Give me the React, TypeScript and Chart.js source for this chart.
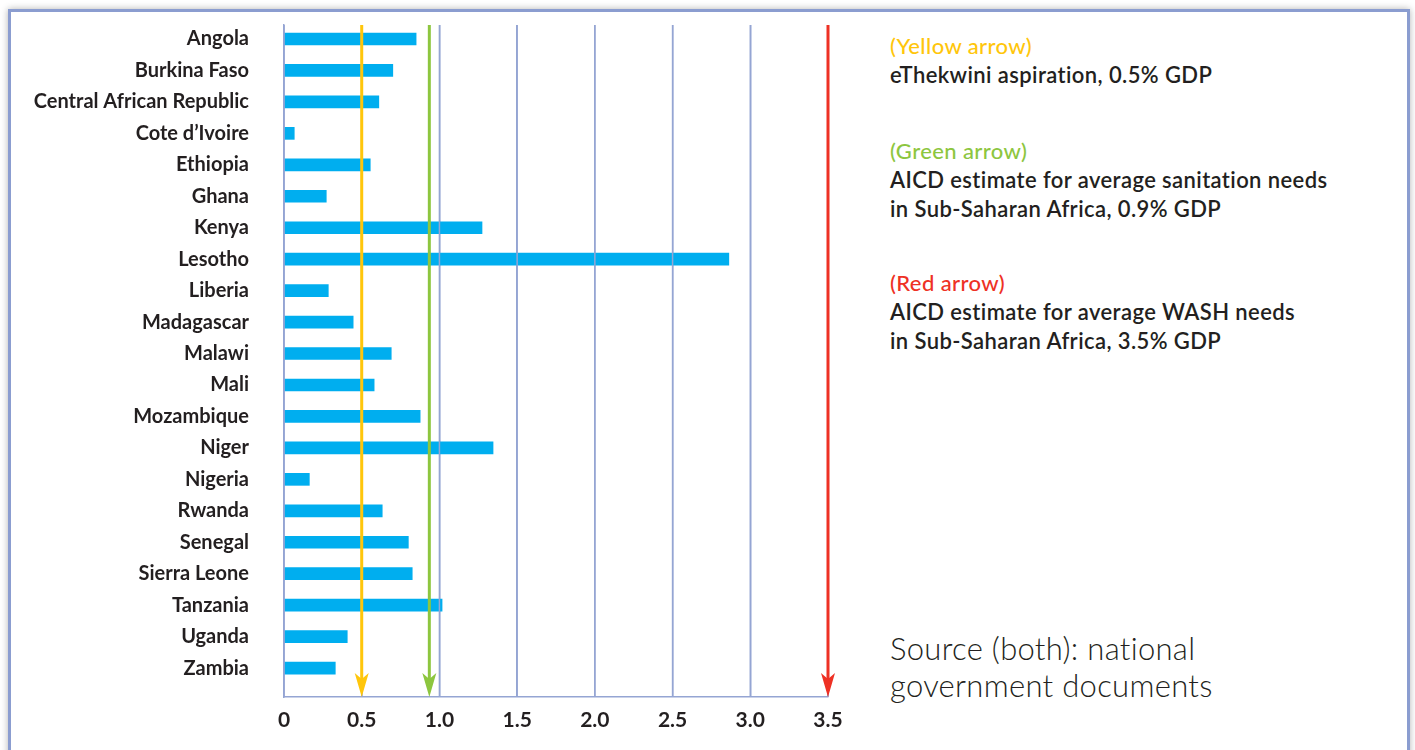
import React, { useEffect, useRef } from "react";
import { Chart, registerables } from "chart.js";

Chart.register(...registerables);

const countries = [
  "Angola", "Burkina Faso", "Central African Republic", "Cote d\u2019Ivoire", "Ethiopia",
  "Ghana", "Kenya", "Lesotho", "Liberia", "Madagascar", "Malawi", "Mali", "Mozambique",
  "Niger", "Nigeria", "Rwanda", "Senegal", "Sierra Leone", "Tanzania", "Uganda", "Zambia",
];
const spending = [
  0.85, 0.70, 0.61, 0.066, 0.555, 0.272, 1.274, 2.862, 0.285, 0.445, 0.69,
  0.58, 0.876, 1.345, 0.163, 0.632, 0.80, 0.825, 1.017, 0.407, 0.33,
];
const xTicks = [0, 0.5, 1.0, 1.5, 2.0, 2.5, 3.0, 3.5];
const arrowValues = [0.5, 0.935, 3.5];
const arrowColors = ["#ffc60b", "#8dc63f", "#ee3124"];

const GRID = "#95a5d3";
const TEXT = "#231f20";
const FONT = "Lato, 'Open Sans', sans-serif";

const overlayPlugin = {
  id: "overlay",
  afterDatasetsDraw(chart: any) {
    const { ctx, chartArea, scales } = chart;
    const xs = scales.x;
    ctx.save();
    ctx.strokeStyle = GRID;
    ctx.lineWidth = 1.5;
    xTicks.forEach((v) => {
      const x = xs.getPixelForValue(v);
      ctx.beginPath();
      ctx.moveTo(x, chartArea.top);
      ctx.lineTo(x, chartArea.bottom);
      ctx.stroke();
    });
    const headLen = 24;
    const halfW = 7;
    const notch = 6;
    arrowValues.forEach((v, i) => {
      const x = xs.getPixelForValue(v);
      const tip = chartArea.bottom;
      ctx.strokeStyle = arrowColors[i];
      ctx.fillStyle = arrowColors[i];
      ctx.lineWidth = 3;
      ctx.beginPath();
      ctx.moveTo(x, chartArea.top);
      ctx.lineTo(x, tip - headLen + notch);
      ctx.stroke();
      ctx.beginPath();
      ctx.moveTo(x, tip);
      ctx.lineTo(x - halfW, tip - headLen);
      ctx.lineTo(x, tip - headLen + notch);
      ctx.lineTo(x + halfW, tip - headLen);
      ctx.closePath();
      ctx.fill();
    });
    ctx.restore();
  },
};

function BarChart() {
  const ref = useRef<HTMLCanvasElement>(null);
  useEffect(() => {
    if (!ref.current) return;
    const chart = new Chart(ref.current, {
      type: "bar",
      data: {
        datasets: [
          {
            data: spending.map((v, i) => ({ x: v, y: i })),
            backgroundColor: "#00aeef",
            barThickness: 12,
            borderWidth: 0,
          },
        ],
      },
      options: {
        indexAxis: "y",
        responsive: false,
        animation: false,
        layout: { padding: { top: 25, right: 42, left: 0, bottom: 0 } },
        plugins: { legend: { display: false }, tooltip: { enabled: false } },
        scales: {
          x: {
            type: "linear",
            position: "bottom",
            min: 0,
            max: 3.5,
            offset: false,
            afterBuildTicks: (s: any) => {
              s.ticks = xTicks.map((v) => ({ value: v }));
            },
            afterFit: (s: any) => {
              s.height = 53;
              s.paddingLeft = 0;
              s.paddingRight = 0;
            },
            ticks: {
              callback: (v: any) => (v === 0 ? "0" : Number(v).toFixed(1)),
              font: { family: FONT, size: 21, weight: "bold" },
              color: TEXT,
              padding: 11,
              maxRotation: 0,
            },
            grid: { color: GRID, lineWidth: 1.5, drawTicks: false, offset: false },
            border: { color: GRID, width: 1.5 },
          },
          y: {
            type: "linear",
            reverse: true,
            min: -0.445,
            max: 20.92,
            offset: false,
            afterBuildTicks: (s: any) => {
              s.ticks = countries.map((_, i) => ({ value: i }));
            },
            afterFit: (s: any) => {
              s.width = 284;
              s.paddingTop = 0;
              s.paddingBottom = 0;
            },
            ticks: {
              autoSkip: false,
              callback: (v: any) => countries[v],
              font: { family: FONT, size: 20, weight: "bold" },
              color: TEXT,
              padding: 35,
            },
            grid: { display: false, drawTicks: false, offset: false },
            border: { display: true, color: GRID, width: 1.5 },
          },
        },
      },
      plugins: [overlayPlugin],
    } as any);
    return () => chart.destroy();
  }, []);
  return (
    <canvas
      ref={ref}
      width={870}
      height={750}
      style={{ position: "absolute", left: 0, top: 0, width: 870, height: 750 }}
    />
  );
}

const headStyle = (color: string): React.CSSProperties => ({ color, fontWeight: 500 });
const bodyStyle: React.CSSProperties = { color: TEXT, fontWeight: 600 };
const blockStyle = (top: number): React.CSSProperties => ({
  position: "absolute",
  left: 890,
  top,
  fontSize: 22,
  letterSpacing: "0.4px",
  lineHeight: "29px",
  whiteSpace: "nowrap",
});

export default function App() {
  return (
    <div
      style={{
        position: "fixed",
        left: 0,
        top: 0,
        width: 1415,
        height: 750,
        overflow: "hidden",
        background: "#ffffff",
        fontFamily: FONT,
      }}
    >
      <div
        style={{
          position: "absolute",
          left: 8,
          top: 9,
          width: 1402,
          height: 800,
          boxSizing: "border-box",
          border: "3px solid #8b9dd0",
          boxShadow: "0 0 7px rgba(0,0,0,0.3)",
          background: "#ffffff",
        }}
      />
      <BarChart />
      <div style={blockStyle(30.5)}>
        <div style={headStyle(arrowColors[0])}>(Yellow arrow)</div>
        <div style={bodyStyle}>eThekwini aspiration, 0.5% GDP</div>
      </div>
      <div style={blockStyle(135.5)}>
        <div style={headStyle(arrowColors[1])}>(Green arrow)</div>
        <div style={bodyStyle}>AICD estimate for average sanitation needs</div>
        <div style={bodyStyle}>in Sub-Saharan Africa, 0.9% GDP</div>
      </div>
      <div style={blockStyle(267.5)}>
        <div style={headStyle(arrowColors[2])}>(Red arrow)</div>
        <div style={bodyStyle}>AICD estimate for average WASH needs</div>
        <div style={bodyStyle}>in Sub-Saharan Africa, 3.5% GDP</div>
      </div>
      <div
        style={{
          position: "absolute",
          left: 890,
          top: 630,
          fontSize: 31,
          lineHeight: "37px",
          letterSpacing: "0.3px",
          fontWeight: 300,
          color: TEXT,
          whiteSpace: "nowrap",
        }}
      >
        <div>Source (both): national</div>
        <div>government documents</div>
      </div>
    </div>
  );
}
